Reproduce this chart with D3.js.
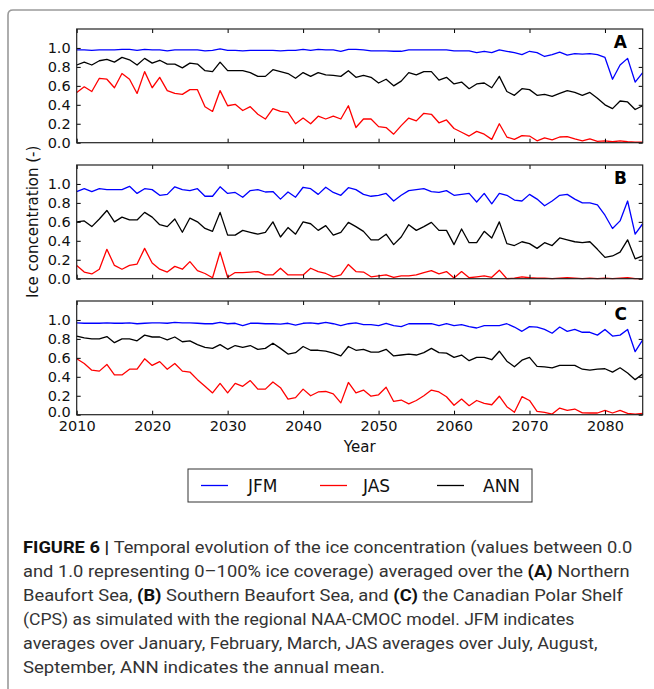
<!DOCTYPE html>
<html>
<head>
<meta charset="utf-8">
<script src="https://cdn.jsdelivr.net/npm/d3@7"></script>
<style>
  html, body { margin: 0; padding: 0; background: #fff; }
  svg { display: block; }
</style>
</head>
<body>
<svg id="chart" width="654" height="689"></svg>
<script>
// ---------------- DATA ----------------
const years = d3.range(2010, 2086);
const xTickValues = [2010, 2020, 2030, 2040, 2050, 2060, 2070, 2080];
const yTickValues = [0.0, 0.2, 0.4, 0.6, 0.8, 1.0];
const seriesNames = ["JFM", "JAS", "ANN"];
const seriesColors = ["#0000ff", "#ff0000", "#000000"];
const panelLetters = ["A", "B", "C"];

// Panel A – Northern Beaufort Sea
const jfmA = [0.98,0.98,0.975,0.98,0.98,0.98,0.985,0.985,0.975,0.985,0.98,0.98,0.97,0.98,0.98,0.98,0.98,0.97,0.975,0.99,0.975,0.975,0.97,0.975,0.975,0.975,0.975,0.97,0.975,0.975,0.985,0.975,0.985,
  0.98,0.98,0.965,0.985,0.985,0.98,0.97,0.97,0.97,0.965,0.965,0.98,0.98,0.98,0.98,0.98,0.98,0.97,0.97,0.97,0.95,0.965,0.95,0.98,0.965,0.95,0.93,0.965,0.95,0.91,0.93,0.955,0.925,0.94,0.935,0.94,0.93,0.90,0.67,0.82,0.89,0.64,0.74];
const jasA = [0.53,0.59,0.54,0.68,0.67,0.58,0.73,0.67,0.52,0.75,0.58,0.69,0.55,0.52,0.51,0.56,0.56,0.38,0.33,0.55,0.39,0.405,0.34,0.38,0.30,0.25,0.36,0.33,0.32,0.20,0.26,0.20,0.28,
  0.25,0.28,0.25,0.39,0.16,0.25,0.25,0.17,0.16,0.09,0.18,0.26,0.23,0.31,0.30,0.21,0.24,0.15,0.11,0.07,0.12,0.09,0.035,0.20,0.06,0.035,0.075,0.07,0.02,0.05,0.03,0.06,0.065,0.04,0.02,0.04,0.015,0.02,0.01,0.02,0.01,0.005,0.005];
const annA = [0.82,0.85,0.82,0.865,0.88,0.85,0.90,0.875,0.82,0.89,0.84,0.87,0.83,0.83,0.79,0.84,0.83,0.76,0.75,0.85,0.76,0.76,0.76,0.74,0.70,0.70,0.77,0.75,0.73,0.68,0.74,0.70,0.74,
  0.715,0.71,0.70,0.76,0.69,0.71,0.69,0.63,0.67,0.60,0.65,0.74,0.715,0.75,0.75,0.66,0.69,0.62,0.64,0.57,0.62,0.63,0.58,0.70,0.54,0.50,0.57,0.56,0.50,0.51,0.49,0.52,0.55,0.53,0.50,0.53,0.47,0.40,0.36,0.44,0.43,0.35,0.39];

// Panel B – Southern Beaufort Sea
const jfmB = [0.92,0.95,0.92,0.95,0.94,0.94,0.94,0.975,0.90,0.95,0.94,0.88,0.89,0.97,0.94,0.93,0.95,0.87,0.87,0.97,0.90,0.91,0.86,0.93,0.94,0.915,0.92,0.84,0.915,0.86,0.965,0.95,0.89,
  0.965,0.91,0.88,0.96,0.94,0.89,0.87,0.88,0.90,0.82,0.88,0.93,0.94,0.95,0.92,0.91,0.93,0.88,0.89,0.90,0.81,0.90,0.79,0.90,0.88,0.83,0.82,0.89,0.84,0.77,0.82,0.88,0.89,0.84,0.80,0.80,0.78,0.67,0.53,0.61,0.82,0.47,0.58];
const jasB = [0.14,0.07,0.05,0.10,0.31,0.14,0.10,0.14,0.155,0.32,0.165,0.10,0.07,0.13,0.10,0.18,0.085,0.055,0.01,0.28,0.015,0.065,0.065,0.07,0.075,0.04,0.04,0.11,0.04,0.04,0.04,0.11,0.075,
  0.055,0.02,0.04,0.15,0.075,0.07,0.02,0.03,0.04,0.015,0.03,0.03,0.04,0.065,0.085,0.05,0.075,0.007,0.075,0.01,0.02,0.03,0.015,0.09,0.0,0.005,0.02,0.01,0.005,0.005,0.0,0.005,0.01,0.005,0.0,0.005,0.0,0.005,0.0,0.005,0.01,0.0,0.0];
const annB = [0.60,0.61,0.55,0.63,0.72,0.60,0.65,0.62,0.62,0.70,0.65,0.57,0.55,0.63,0.49,0.64,0.60,0.53,0.50,0.70,0.46,0.46,0.51,0.49,0.47,0.49,0.60,0.44,0.54,0.47,0.60,0.58,0.51,
  0.56,0.46,0.49,0.595,0.55,0.50,0.41,0.41,0.47,0.36,0.44,0.57,0.51,0.55,0.595,0.51,0.51,0.36,0.525,0.38,0.38,0.50,0.43,0.60,0.37,0.35,0.39,0.37,0.32,0.38,0.35,0.43,0.41,0.39,0.38,0.39,0.31,0.225,0.24,0.28,0.41,0.21,0.24];

// Panel C – Canadian Polar Shelf
const jfmC = [0.97,0.965,0.965,0.965,0.97,0.965,0.965,0.97,0.96,0.965,0.97,0.97,0.965,0.975,0.97,0.97,0.965,0.96,0.96,0.975,0.96,0.965,0.94,0.965,0.965,0.96,0.96,0.955,0.965,0.945,0.965,0.97,0.96,
  0.975,0.96,0.94,0.96,0.97,0.95,0.95,0.94,0.965,0.94,0.93,0.96,0.96,0.96,0.96,0.94,0.96,0.94,0.95,0.93,0.915,0.94,0.94,0.94,0.96,0.925,0.88,0.93,0.925,0.90,0.86,0.925,0.88,0.90,0.87,0.87,0.84,0.90,0.83,0.84,0.90,0.665,0.79];
const jasC = [0.59,0.54,0.47,0.46,0.53,0.42,0.42,0.48,0.48,0.59,0.52,0.56,0.48,0.54,0.46,0.45,0.37,0.30,0.23,0.33,0.23,0.33,0.30,0.36,0.27,0.27,0.345,0.285,0.165,0.18,0.27,0.20,0.24,
  0.245,0.22,0.125,0.34,0.23,0.26,0.195,0.21,0.29,0.14,0.155,0.115,0.15,0.20,0.26,0.24,0.19,0.10,0.165,0.095,0.15,0.12,0.105,0.195,0.085,0.025,0.19,0.15,0.035,0.025,0.007,0.07,0.045,0.06,0.02,0.018,0.018,0.045,0.018,0.045,0.014,0.007,0.014];
const annC = [0.83,0.81,0.80,0.80,0.825,0.76,0.80,0.80,0.78,0.84,0.82,0.82,0.79,0.82,0.77,0.78,0.74,0.71,0.70,0.74,0.69,0.73,0.71,0.73,0.69,0.70,0.755,0.70,0.64,0.655,0.72,0.68,0.68,
  0.67,0.65,0.62,0.72,0.68,0.69,0.66,0.66,0.69,0.62,0.63,0.64,0.63,0.655,0.70,0.655,0.65,0.605,0.63,0.57,0.605,0.605,0.58,0.67,0.565,0.505,0.575,0.605,0.51,0.505,0.495,0.52,0.52,0.52,0.48,0.47,0.48,0.485,0.45,0.495,0.44,0.37,0.43];

const yAxisLabel = "Ice concentration (-)";
const xAxisLabel = "Year";

const captionLines = [
  [["FIGURE 6 | ", true], ["Temporal evolution of the ice concentration (values between 0.0", false]],
  [["and 1.0 representing 0–100% ice coverage) averaged over the ", false], ["(A)", true], [" Northern", false]],
  [["Beaufort Sea, ", false], ["(B)", true], [" Southern Beaufort Sea, and ", false], ["(C)", true], [" the Canadian Polar Shelf", false]],
  [["(CPS) as simulated with the regional NAA-CMOC model. JFM indicates", false]],
  [["averages over January, February, March, JAS averages over July, August,", false]],
  [["September, ANN indicates the annual mean.", false]]
];

// ---------------- LAYOUT ----------------
const svg = d3.select("#chart");
const left = 76.7, right = 642.7;
const panelTops = [29, 165, 301];
const panelH = 113.7;
const fontAxis = "DejaVu Sans, sans-serif";

const panels = [
  [jfmA, jasA, annA],
  [jfmB, jasB, annB],
  [jfmC, jasC, annC]
];

// outer figure frame (left and top)
svg.append("path")
  .attr("d", "M654,10 L13,10 Q8,10 8,15 L8,689")
  .attr("fill", "none").attr("stroke", "#9a9a9a").attr("stroke-width", 1.6);

const x = d3.scaleLinear().domain([2010, 2085]).range([left, right]);

panels.forEach((series, pi) => {
  const top = panelTops[pi];
  const bottom = top + panelH;
  const y = d3.scaleLinear().domain([0, 1.2]).range([bottom, top]);
  const g = svg.append("g");

  const line = d3.line().x((d, i) => x(years[i])).y(d => y(d));
  series.forEach((vals, si) => {
    g.append("path").datum(vals)
      .attr("fill", "none")
      .attr("stroke", seriesColors[si])
      .attr("stroke-width", 1.3)
      .attr("stroke-linejoin", "round")
      .attr("d", line);
  });

  // axes (inward ticks)
  const yl = g.append("g").attr("transform", `translate(${left},0)`)
    .call(d3.axisLeft(y).tickValues(yTickValues).tickFormat(d3.format(".1f"))
      .tickSize(-4).tickSizeOuter(0).tickPadding(6));
  const yr = g.append("g").attr("transform", `translate(${right},0)`)
    .call(d3.axisRight(y).tickValues(yTickValues).tickFormat("").tickSize(-4).tickSizeOuter(0));
  const xt = g.append("g").attr("transform", `translate(0,${top})`)
    .call(d3.axisTop(x).tickValues(xTickValues).tickFormat("").tickSize(-4).tickSizeOuter(0));
  const xb = g.append("g").attr("transform", `translate(0,${bottom})`)
    .call(d3.axisBottom(x).tickValues(xTickValues).tickFormat(pi === 2 ? d3.format("d") : "")
      .tickSize(-4).tickSizeOuter(0).tickPadding(6.5));
  [yl, yr, xt, xb].forEach(a => {
    a.select(".domain").remove();
    a.selectAll("line").attr("stroke", "#000").attr("stroke-width", 1);
    a.selectAll("text").attr("font-family", fontAxis).attr("font-size", 14.5).attr("fill", "#111");
  });
  if (pi === 2) {
    // bottom "0.0" label sits slightly raised above the "2010" label, as in the reference
    yl.selectAll(".tick").filter(d => d === 0).select("text").attr("dy", "0.1em");
  }

  // panel border
  g.append("rect").attr("x", left).attr("y", top).attr("width", right - left).attr("height", panelH)
    .attr("fill", "none").attr("stroke", "#222").attr("stroke-width", 1.2);

  // panel letter
  g.append("text").attr("x", 627).attr("y", top + 19)
    .attr("text-anchor", "end").attr("font-family", fontAxis).attr("font-weight", "bold")
    .attr("font-size", 17).attr("fill", "#000").text(panelLetters[pi]);
});

// axis labels
svg.append("text").attr("x", (left + right) / 2).attr("y", 452)
  .attr("text-anchor", "middle").attr("font-family", fontAxis).attr("font-size", 15)
  .attr("fill", "#111").text(xAxisLabel);
svg.append("text")
  .attr("transform", `translate(38,${(panelTops[0] + panelTops[2] + panelH) / 2}) rotate(-90)`)
  .attr("text-anchor", "middle").attr("font-family", fontAxis).attr("font-size", 15)
  .attr("fill", "#111").text(yAxisLabel);

// legend
const leg = svg.append("g");
leg.append("rect").attr("x", 188).attr("y", 469).attr("width", 344).attr("height", 33)
  .attr("fill", "#fff").attr("stroke", "#333").attr("stroke-width", 1);
const legLineX = [201, 320, 437];
const legTextX = [248, 363, 483];
seriesNames.forEach((n, i) => {
  leg.append("line").attr("x1", legLineX[i]).attr("x2", legLineX[i] + 27)
    .attr("y1", 485.5).attr("y2", 485.5).attr("stroke", seriesColors[i]).attr("stroke-width", 1.3);
  leg.append("text").attr("x", legTextX[i]).attr("y", 491.5)
    .attr("font-family", fontAxis).attr("font-size", 17).attr("fill", "#111").text(n);
});

// caption
const capBaselines = [553, 577, 601, 625, 649, 673];
const capEnds = [633, 630, 623, 575, 598, 385];
const capX = 23;
captionLines.forEach((segs, li) => {
  const t = svg.append("text").attr("x", 0).attr("y", 0)
    .attr("font-family", "'Liberation Sans Narrow', 'Roboto', 'Liberation Sans', sans-serif")
    .attr("font-size", 16.5).attr("fill", "#333")
    .style("white-space", "pre");
  segs.forEach(([s, b]) => {
    t.append("tspan").attr("font-weight", b ? "bold" : "normal")
      .attr("fill", b ? "#111" : "#333").text(s);
  });
  const w = t.node().getComputedTextLength();
  const sx = (capEnds[li] - capX) / w;
  t.attr("transform", `translate(${capX},${capBaselines[li]}) scale(${sx},1)`);
});
</script>
</body>
</html>
